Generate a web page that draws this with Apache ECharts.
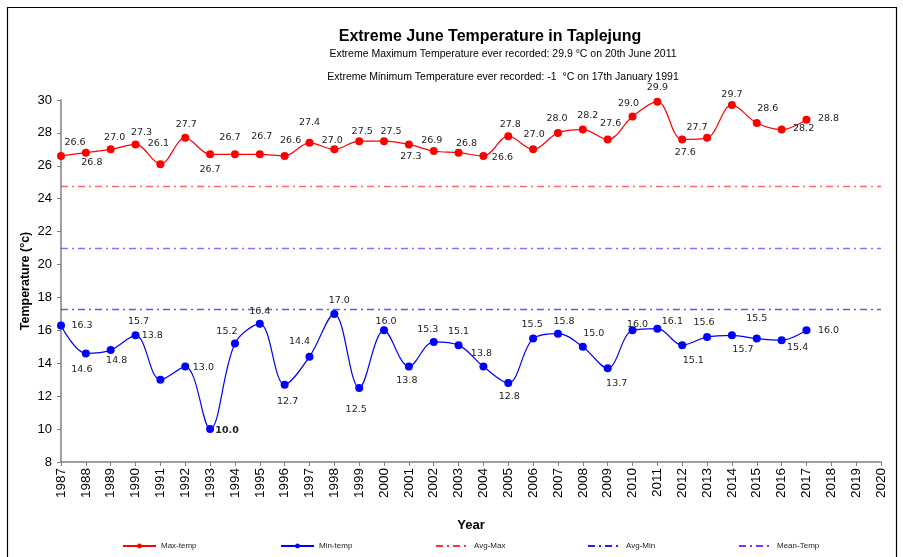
<!DOCTYPE html>
<html style="height: 100%">
<head>
<meta charset="utf-8">
<title>Extreme June Temperature in Taplejung</title>
<script src="https://cdn.jsdelivr.net/npm/echarts@6/dist/echarts.min.js"></script>
</head>
<body style="height: 100%; margin: 0; background: #fff">
<div id="container" style="width: 903px; height: 557px"></div>
<script type="text/javascript">
// data
var years = ['1987','1988','1989','1990','1991','1992','1993','1994','1995','1996','1997','1998','1999','2000','2001','2002','2003','2004','2005','2006','2007','2008','2009','2010','2011','2012','2013','2014','2015','2016','2017','2018','2019','2020'];
var maxTemp = [26.6,26.8,27.0,27.3,26.1,27.7,26.7,26.7,26.7,26.6,27.4,27.0,27.5,27.5,27.3,26.9,26.8,26.6,27.8,27.0,28.0,28.2,27.6,29.0,29.9,27.6,27.7,29.7,28.6,28.2,28.8];
var minTemp = [16.3,14.6,14.8,15.7,13.0,13.8,10.0,15.2,16.4,12.7,14.4,17.0,12.5,16.0,13.8,15.3,15.1,13.8,12.8,15.5,15.8,15.0,13.7,16.0,16.1,15.1,15.6,15.7,15.5,15.4,16.0];
var avgMax = 24.75;
var avgMin = 17.3;
var meanTemp = 21.0;

// label offsets (pixels from the marker), mimicking the hand placed labels
var maxOffsets = [[14,-13],[6,10],[4,-12],[6,-12],[-2,-21],[1,-13],[0,15],[-5,-17],[2,-18],[6,-15],[0,-20],[-2,-9],[3,-10],[7,-10],[2,12],[-2,-10],[8,-9],[19,2],[2,-12],[1,-15],[-1,-14],[5,-14],[3,-16],[-4,-13],[0,-14],[3,13],[-10,-10],[0,-10],[11,-15],[22,-1],[22,-1]];
var minOffsets = [[21,0],[-4,16],[6,10],[3,-14],[43,-12],[-33,-31],[17,1],[-8,-12],[0,-12],[3,17],[-10,-15],[5,-13],[-3,22],[2,-9],[-2,14],[-6,-12],[0,-14],[-2,-13],[1,14],[-1,-14],[6,-12],[11,-13],[9,15],[5,-6],[15,-7],[11,15],[-3,-14],[11,14],[0,-20],[16,7],[22,0]];

function withLabels(values, offsets) {
    return values.map(function (v, i) {
        var item = { value: v, label: { offset: offsets[i] } };
        if (v === 10.0) item.label.fontWeight = 'bold';
        return item;
    });
}

var dashDot = [7, 4, 2, 4];
var dom = document.getElementById('container');
var myChart = echarts.init(dom, null, { renderer: 'canvas' });

function refLine(name, value, color) {
    return {
        name: name,
        type: 'line',
        data: [],
        symbol: 'none',
        itemStyle: { color: color },
        lineStyle: { color: color, width: 1.3, type: dashDot },
        markLine: {
            silent: true,
            symbol: 'none',
            label: { show: false },
            lineStyle: { color: color, width: 1.3, type: dashDot, opacity: 0.75 },
            data: [{ yAxis: value }]
        }
    };
}

var labelStyle = {
    show: true,
    position: 'inside',
    fontFamily: 'DejaVu Sans',
    fontSize: 9.5,
    color: '#222',
    formatter: function (p) { return p.value.toFixed(1); }
};

function legendAt(name, left, plain) {
    var entry = { name: name };
    if (plain) entry.itemStyle = { opacity: 0 };
    return {
        data: [entry],
        left: left,
        top: 537,
        itemWidth: 33,
        itemHeight: 6,
        textStyle: { fontFamily: 'Liberation Sans', fontSize: 8, color: '#222' }
    };
}

var option = {
    animation: false,
    title: [{
        text: 'Extreme June Temperature in Taplejung',
        left: 485, top: 24, textAlign: 'center',
        textStyle: { fontFamily: 'Liberation Sans', fontSize: 16, fontWeight: 'bold', color: '#000' }
    }, {
        text: 'Extreme Maximum Temperature ever recorded: 29.9 °C on 20th June 2011',
        left: 498, top: 44, textAlign: 'center',
        textStyle: { fontFamily: 'Liberation Sans', fontSize: 10.5, fontWeight: 'normal', color: '#000' }
    }, {
        text: 'Extreme Minimum Temperature ever recorded: -1  °C on 17th January 1991',
        left: 498, top: 67, textAlign: 'center',
        textStyle: { fontFamily: 'Liberation Sans', fontSize: 10.5, fontWeight: 'normal', color: '#000' }
    }],
    legend: [
        legendAt('Max-temp', 117),
        legendAt('Min-temp', 275),
        legendAt('Avg-Max', 430, true),
        legendAt('Avg-Min', 582, true),
        legendAt('Mean-Temp', 733, true)
    ],
    graphic: [{
        type: 'rect',
        shape: { x: 7.5, y: 7.5, width: 889, height: 560 },
        style: { fill: 'none', stroke: '#000', lineWidth: 1.2 },
        silent: true
    }],
    grid: { left: 61, right: 22, top: 100, bottom: 95 },
    xAxis: {
        type: 'category',
        data: years,
        boundaryGap: false,
        name: 'Year',
        nameLocation: 'middle',
        nameGap: 57,
        nameTextStyle: { fontFamily: 'Liberation Sans', fontSize: 13, fontWeight: 'bold', color: '#000' },
        axisLine: { lineStyle: { color: '#808080', width: 1.5 } },
        axisTick: { show: true, alignWithLabel: true, length: 4, lineStyle: { color: '#808080' } },
        axisLabel: { rotate: 90, interval: 0, fontFamily: 'Liberation Sans', fontSize: 13.5, color: '#000', margin: 6 },
        splitLine: { show: false }
    },
    yAxis: {
        type: 'value',
        min: 8, max: 30, interval: 2,
        name: 'Temperature (°c)',
        nameLocation: 'middle',
        nameGap: 29,
        nameMoveOverlap: false,
        nameTextStyle: { fontFamily: 'Liberation Sans', fontSize: 12.5, fontWeight: 'bold', color: '#000' },
        axisLine: { show: true, lineStyle: { color: '#808080', width: 1.5 } },
        axisTick: { show: true, length: 4, lineStyle: { color: '#808080' } },
        axisLabel: { fontFamily: 'Liberation Sans', fontSize: 13, color: '#000', margin: 9 },
        splitLine: { show: false }
    },
    series: [{
        name: 'Max-temp',
        type: 'line',
        data: withLabels(maxTemp, maxOffsets),
        smooth: 0.35,
        symbol: 'circle',
        symbolSize: 8,
        itemStyle: { color: '#ff0000' },
        lineStyle: { color: '#ff0000', width: 1.2 },
        label: labelStyle,
        z: 5
    }, {
        name: 'Min-temp',
        type: 'line',
        data: withLabels(minTemp, minOffsets),
        smooth: 0.35,
        symbol: 'circle',
        symbolSize: 8,
        itemStyle: { color: '#0000ff' },
        lineStyle: { color: '#0000ff', width: 1.2 },
        label: labelStyle,
        z: 5
    },
    refLine('Avg-Max', avgMax, '#ff3333'),
    refLine('Avg-Min', avgMin, '#2222ff'),
    refLine('Mean-Temp', meanTemp, '#7a33ff')
    ]
};

myChart.setOption(option);
</script>
</body>
</html>
